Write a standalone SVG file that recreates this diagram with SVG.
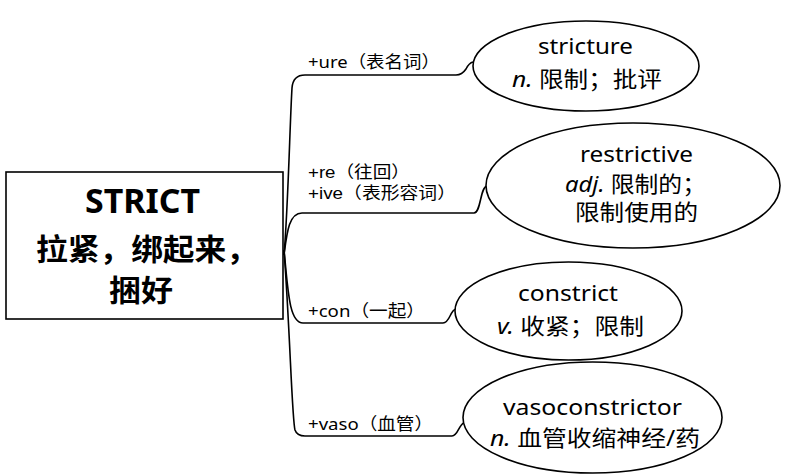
<svg xmlns="http://www.w3.org/2000/svg" width="786" height="476" viewBox="0 0 786 476">
  <style>
    text { font-family: "Noto Sans", "Noto Sans CJK SC", sans-serif; fill: #000; }
    .root { font-weight: bold; }
    .lbl { font-size: 17px; }
    .tight { font-family: "Liberation Sans", "Noto Sans CJK SC", sans-serif; font-size: 16.5px; }
    .leaf { font-size: 22px; }
    .it { font-style: italic; }
    .shape { fill: #fff; stroke: #000; stroke-width: 1.6; }
    .conn path { fill: none; stroke: #000; stroke-width: 1.6; }
  </style>
  <rect width="786" height="476" fill="#fff"/>

  <g id="connectors" class="conn">
    <path d="M284,255 C288,210 290,120 292,88 Q293,75 305,75 L456,75 Q462,75 466,69 Q469,63 473,62"/>
    <path d="M284,255 C287,232 289,213 302,213 L474,213 C481,213 480,187 487,186"/>
    <path d="M284,250 C288,290 289,323 303,323 L443,323 C450,323 450,310 456,309"/>
    <path d="M284,250 C290,330 292,420 295,430 Q297,436 305,436 L452,436 C458,436 459,424 464,423"/>
  </g>

  <g id="root">
    <rect class="shape" x="6" y="172" width="277" height="147"/>
    <text class="root" x="85" y="213" font-size="34" textLength="115" lengthAdjust="spacingAndGlyphs">STRICT</text>
    <text class="root" x="36" y="260" font-size="30" textLength="222" lengthAdjust="spacingAndGlyphs">拉紧，绑起来，</text>
    <text class="root" x="109" y="301" font-size="30" textLength="64" lengthAdjust="spacingAndGlyphs">捆好</text>
  </g>

  <g id="label-ure">
    <text class="lbl" x="308" y="68" textLength="132" lengthAdjust="spacingAndGlyphs">+ure（表名词）</text>
  </g>
  <g id="label-re-ive">
    <text class="lbl tight" x="308" y="178" textLength="102" lengthAdjust="spacingAndGlyphs">+re（往回）</text>
    <text class="lbl tight" x="308" y="199" textLength="148" lengthAdjust="spacingAndGlyphs">+ive（表形容词）</text>
  </g>
  <g id="label-con">
    <text class="lbl" x="308" y="317" textLength="117" lengthAdjust="spacingAndGlyphs">+con（一起）</text>
  </g>
  <g id="label-vaso">
    <text class="lbl" x="308" y="430" textLength="125" lengthAdjust="spacingAndGlyphs">+vaso（血管）</text>
  </g>

  <g id="node-stricture">
    <ellipse class="shape" cx="586" cy="66" rx="113" ry="45"/>
    <text class="leaf" x="538" y="54" textLength="95" lengthAdjust="spacingAndGlyphs">stricture</text>
    <text class="leaf" x="512" y="87" textLength="150" lengthAdjust="spacingAndGlyphs"><tspan class="it">n.</tspan> 限制；批评</text>
  </g>

  <g id="node-restrictive">
    <ellipse class="shape" cx="633" cy="185.5" rx="147" ry="62.5"/>
    <text class="leaf" x="580" y="162" textLength="113" lengthAdjust="spacingAndGlyphs">restrictive</text>
    <text class="leaf" x="565" y="192" textLength="141" lengthAdjust="spacingAndGlyphs"><tspan class="it">adj.</tspan> 限制的；</text>
    <text class="leaf" x="575" y="220" textLength="123" lengthAdjust="spacingAndGlyphs">限制使用的</text>
  </g>

  <g id="node-constrict">
    <ellipse class="shape" cx="568.5" cy="311" rx="113.5" ry="49"/>
    <text class="leaf" x="518" y="301" textLength="100" lengthAdjust="spacingAndGlyphs">constrict</text>
    <text class="leaf" x="497" y="334" textLength="147" lengthAdjust="spacingAndGlyphs"><tspan class="it">v.</tspan> 收紧；限制</text>
  </g>

  <g id="node-vasoconstrictor">
    <ellipse class="shape" cx="592.5" cy="417.5" rx="129.5" ry="55.5"/>
    <text class="leaf" x="503" y="415" textLength="179" lengthAdjust="spacingAndGlyphs">vasoconstrictor</text>
    <text class="leaf" x="490" y="446" textLength="210" lengthAdjust="spacingAndGlyphs"><tspan class="it">n.</tspan> 血管收缩神经/药</text>
  </g>
</svg>
